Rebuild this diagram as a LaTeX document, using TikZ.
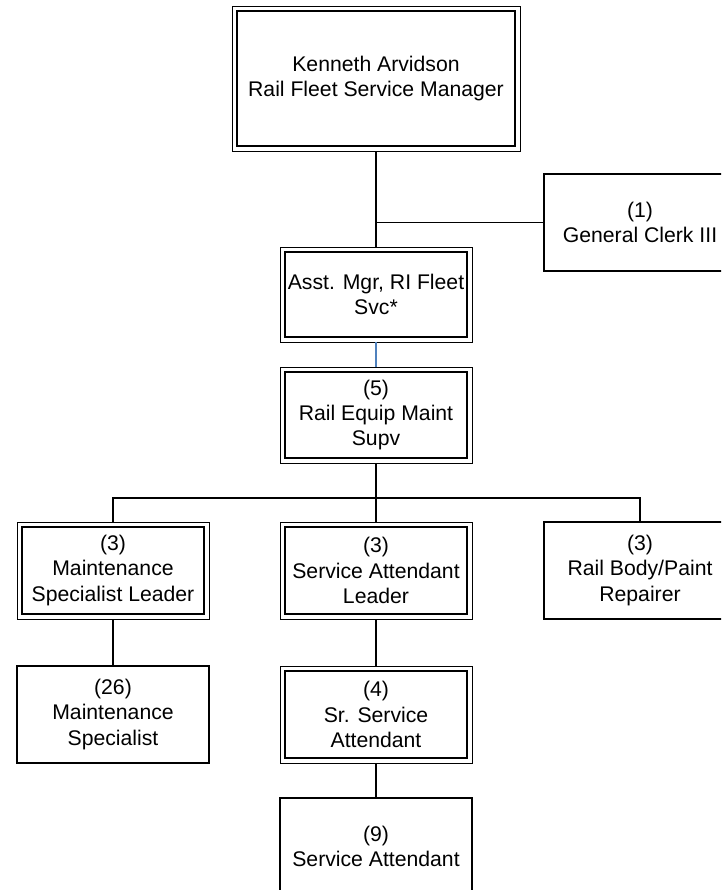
\documentclass[tikz,border=0pt]{standalone}
\usepackage{fontspec}
\setmainfont{Liberation Sans}
\usepackage{xcolor}
\definecolor{linkBlue}{HTML}{4F81BD}

\begin{document}
\begin{tikzpicture}[
  x=1pt, y=-1pt,
  font=\fontsize{21.2}{25.3}\selectfont,
  post/.style={draw=black, line width=1.1pt, fill=white, align=center, inner sep=2pt,
    minimum width=192pt, minimum height=97pt},
  leadpost/.style={post, line width=0.9pt,
    path picture={\draw[line width=1.8pt]
      ([shift={(4.9pt,4.9pt)}]path picture bounding box.south west) rectangle
      ([shift={(-4.9pt,-4.9pt)}]path picture bounding box.north east);}},
  link/.style={draw=black, line width=1.1pt},
  bluelink/.style={draw=linkBlue, line width=1.1pt}
]
\useasboundingbox (0,0) rectangle (721,890);
\clip (0,0) rectangle (721,890);

\node[leadpost, minimum width=288pt, minimum height=145pt] (chief) at (376,78.5)
  {Kenneth Arvidson\\Rail Fleet Service Manager};
\node[post] (clerk) at (640,222.5) {(1)\\General Clerk III};
\node[leadpost, minimum height=95pt] (asst) at (376,294.5) {Asst. Mgr, RI Fleet\\Svc*};
\node[leadpost, minimum height=96pt] (supv) at (376,415) {(5)\\Rail Equip Maint\\Supv};

\node[leadpost] (leadmaint) at (113,570.5) {(3)\\Maintenance\\Specialist Leader};
\node[leadpost] (leadsvc) at (376,570.5) {(3)\\Service Attendant\\Leader};
\node[post] (painter) at (640,570.5) {(3)\\Rail Body/Paint\\Repairer};

\node[post] (maint) at (113,714.5) {(26)\\Maintenance\\Specialist};
\node[leadpost] (srsvc) at (376,714.5) {(4)\\Sr. Service\\Attendant};
\node[post] (svc) at (376,846.5) {(9)\\Service Attendant};

\coordinate (clerkjoin) at (chief.south |- clerk.west);
\coordinate (bus) at (376,498);

\draw[link] (chief.south) -- (asst.north);
\draw[link] (clerkjoin) -- (clerk.west);
\draw[bluelink] (asst.south) -- (supv.north);
\draw[link] (supv.south) -- (leadsvc.north);
\draw[link] (leadmaint.north) |- (bus) -| (painter.north);
\draw[link] (leadmaint.south) -- (maint.north);
\draw[link] (leadsvc.south) -- (srsvc.north);
\draw[link] (srsvc.south) -- (svc.north);
\end{tikzpicture}
\end{document}
